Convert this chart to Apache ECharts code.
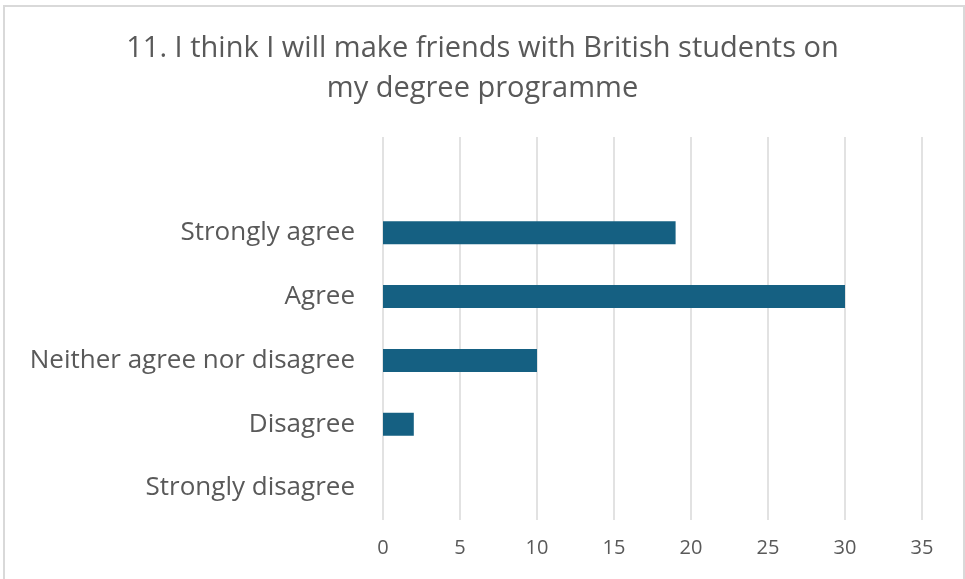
<!DOCTYPE html>
<html>
<head>
<meta charset="utf-8">
<script src="https://cdn.jsdelivr.net/npm/echarts@6/dist/echarts.min.js"></script>
<style>
  html, body { margin: 0; padding: 0; background: #fff; }
  #chart { width: 965px; height: 579px; }
</style>
</head>
<body>
<div id="chart"></div>
<script>
// categories listed bottom to top, the last one is the empty top row
const categories = ['Strongly disagree', 'Disagree', 'Neither agree nor disagree', 'Agree', 'Strongly agree', ''];
const counts = [0, 2, 10, 30, 19, null];
const xTicks = [0, 35, 5]; // min, max, interval

const titleText = '11. I think I will make friends with British students on\nmy degree programme';
const font = '"Open Sans", sans-serif';

const myChart = echarts.init(document.getElementById('chart'));
myChart.setOption({
  animation: false,
  textStyle: {fontFamily: font},
  title: {
    text: titleText,
    left: 'center',
    top: 24,
    textStyle: {
      color: '#595959',
      fontSize: 29,
      fontWeight: 'normal',
      lineHeight: 40,
      fontFamily: font
    }
  },
  graphic: [{
    type: 'rect',
    shape: {x: 4, y: 6, width: 960, height: 590},
    style: {fill: 'none', stroke: '#d9d9d9', lineWidth: 2},
    silent: true
  }],
  grid: {left: 383, right: 43, top: 137, bottom: 59},
  xAxis: {
    type: 'value',
    min: xTicks[0],
    max: xTicks[1],
    interval: xTicks[2],
    axisLine: {show: false},
    axisTick: {show: false},
    splitLine: {lineStyle: {color: '#d9d9d9', width: 1.5}},
    axisLabel: {color: '#595959', fontSize: 20, margin: 18, fontFamily: font}
  },
  yAxis: {
    type: 'category',
    data: categories,
    axisLine: {show: false},
    axisTick: {show: false},
    axisLabel: {color: '#595959', fontSize: 26, margin: 28, fontFamily: font}
  },
  series: [{
    type: 'bar',
    data: counts,
    barWidth: 23,
    itemStyle: {color: '#156082'}
  }]
});
</script>
</body>
</html>
